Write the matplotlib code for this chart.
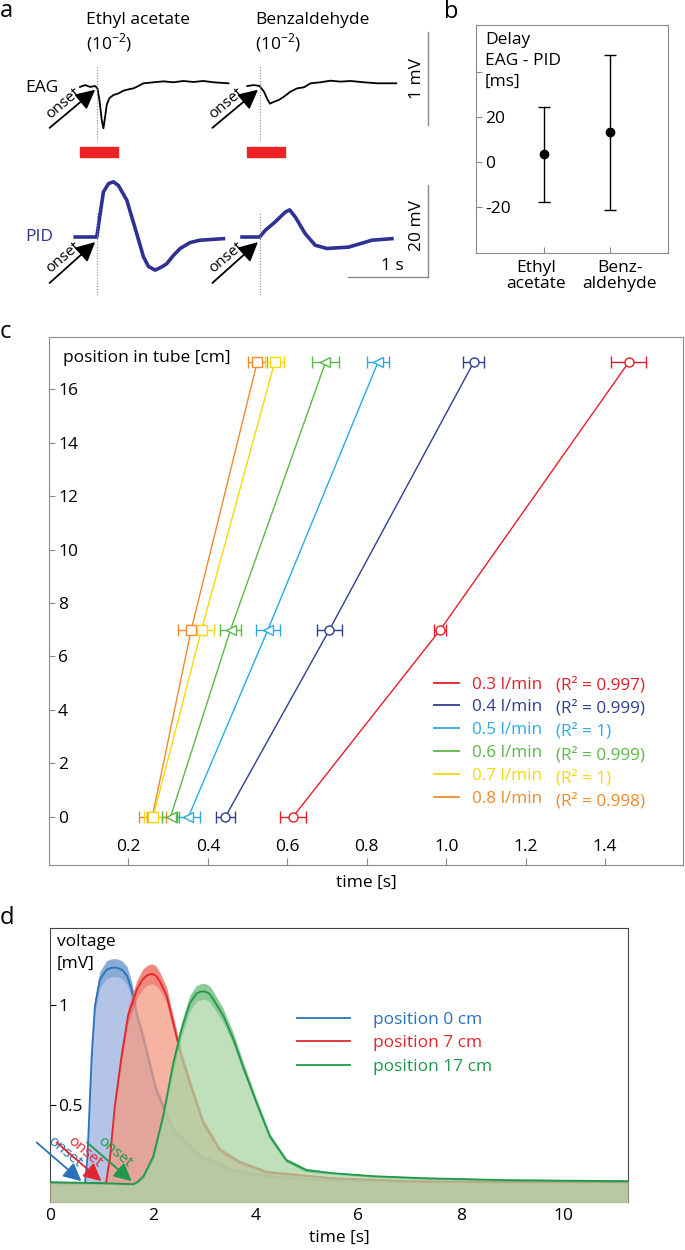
import numpy as np
import matplotlib
matplotlib.use('Agg')
import matplotlib.pyplot as plt
from matplotlib.lines import Line2D
from matplotlib.transforms import ScaledTranslation

plt.rcParams['font.family'] = ['Open Sans', 'DejaVu Sans']
plt.rcParams['mathtext.fontset'] = 'custom'
plt.rcParams['mathtext.rm'] = 'Open Sans'

# ---------------- data ----------------
# panel a: traces, time in s relative to odour onset
eag_ethyl_t = [-0.21, -0.146, -0.083, -0.02, 0.008, 0.033, 0.0625, 0.083, 0.104, 0.125, 0.158, 0.208,
               0.27, 0.333, 0.396, 0.458, 0.52, 0.583, 0.71, 0.833, 0.958, 1.083, 1.208, 1.333, 1.458, 1.646]
eag_ethyl_v = [-0.01, 0.01, -0.01, 0.0, -0.025, -0.15, -0.37, -0.455, -0.33, -0.2, -0.13, -0.097,
               -0.08, -0.05, -0.036, -0.025, 0.0, 0.029, 0.04, 0.05, 0.04, 0.054, 0.043, 0.054, 0.04, 0.029]
eag_benz_t = [-0.154, -0.071, 0.0, 0.054, 0.096, 0.129, 0.179, 0.24, 0.304, 0.387, 0.47, 0.554,
              0.6375, 0.7625, 0.8875, 1.0125, 1.1375, 1.304, 1.47, 1.708]
eag_benz_v = [0.0, 0.01, 0.0, -0.06, -0.14, -0.19, -0.17, -0.15, -0.115, -0.06, -0.025, -0.014,
              0.029, 0.04, 0.057, 0.047, 0.054, 0.04, 0.029, 0.029]
pid_ethyl_t = [-0.27, 0.0, 0.042, 0.083, 0.146, 0.208, 0.27, 0.375, 0.5, 0.583, 0.646, 0.729,
               0.8125, 0.875, 0.958, 1.042, 1.167, 1.29, 1.583]
pid_ethyl_v = [0.0, 0.0, 5.1, 9.8, 11.6, 12.0, 11.2, 8.0, 0.7, -4.3, -6.4, -7.2,
               -6.5, -5.8, -4.0, -2.5, -1.2, -0.7, -0.36]
pid_benz_t = [-0.22, 0.0, 0.071, 0.196, 0.32, 0.375, 0.446, 0.571, 0.696, 0.842, 1.1125, 1.404, 1.654]
pid_benz_v = [0.0, 0.0, 1.45, 3.3, 5.4, 5.9, 4.35, 0.7, -1.8, -2.5, -2.2, -0.7, -0.36]
odour_names = ['Ethyl acetate', 'Benzaldehyde']
onset_times = [1.21, 3.245]       # s, position of each trace in panel a
stim_start = [-0.21, -0.16]       # valve opening relative to onset
stim_dur = 0.48

# panel b: delay EAG - PID [ms]
odours_b = ['Ethyl\nacetate', 'Benz-\naldehyde']
delay_mean = [3.5, 13.2]
delay_err = [21.2, 34.6]

# panel c: arrival time at each position in the tube
positions = [0, 7, 17]
flows = ['0.3 l/min', '0.4 l/min', '0.5 l/min', '0.6 l/min', '0.7 l/min', '0.8 l/min']
r2 = ['0.997', '0.999', '1', '0.999', '1', '0.998']
arrival = [
    [0.614, 0.985, 1.459],
    [0.444, 0.706, 1.069],
    [0.351, 0.551, 0.828],
    [0.306, 0.457, 0.696],
    [0.262, 0.384, 0.568],
    [0.260, 0.358, 0.524],
]
arrival_err = [
    [0.033, 0.015, 0.043],
    [0.023, 0.031, 0.026],
    [0.028, 0.031, 0.027],
    [0.021, 0.027, 0.033],
    [0.023, 0.031, 0.023],
    [0.034, 0.033, 0.024],
]

# panel d: PID voltage at three positions
d_labels = ['position 0 cm', 'position 7 cm', 'position 17 cm']
t_pos0 = [0, 0.5, 0.68, 0.73, 0.77, 0.81, 0.875, 0.97, 1.10, 1.20, 1.30, 1.40, 1.50, 1.59, 1.69, 1.82,
          2.07, 2.40, 2.92, 3.57, 4.22, 5.0, 6.0, 8.0, 11.25]
v_pos0 = [0.105, 0.105, 0.105, 0.24, 0.49, 0.74, 1.0, 1.13, 1.18, 1.19, 1.19, 1.18, 1.15, 1.08, 0.95, 0.83,
          0.57, 0.37, 0.24, 0.17, 0.14, 0.125, 0.115, 0.11, 0.11]
sd_pos0 = [0.005, 0.005, 0.005, 0.01, 0.02, 0.03, 0.035, 0.04, 0.045, 0.045, 0.045, 0.045, 0.045, 0.04, 0.03, 0.03,
           0.025, 0.02, 0.015, 0.01, 0.01, 0.005, 0.005, 0.005, 0.005]
t_pos7 = [0, 0.9, 1.09, 1.17, 1.26, 1.39, 1.52, 1.69, 1.80, 1.88, 1.98, 2.06, 2.14, 2.27, 2.40, 2.56, 2.76,
          2.98, 3.31, 3.70, 4.22, 5.5, 7.0, 9.0, 11.25]
v_pos7 = [0.105, 0.105, 0.105, 0.24, 0.49, 0.74, 0.95, 1.08, 1.13, 1.15, 1.16, 1.15, 1.12, 1.05, 0.91, 0.74, 0.58,
          0.41, 0.27, 0.21, 0.16, 0.13, 0.115, 0.11, 0.11]
sd_pos7 = [0.005, 0.005, 0.005, 0.01, 0.02, 0.03, 0.04, 0.045, 0.05, 0.05, 0.05, 0.05, 0.045, 0.04, 0.035, 0.03, 0.025,
           0.02, 0.015, 0.01, 0.01, 0.005, 0.005, 0.005, 0.005]
t_pos17 = [0, 1.0, 1.62, 1.70, 1.82, 2.01, 2.20, 2.40, 2.56, 2.72, 2.85, 2.94, 3.02, 3.10, 3.18, 3.37, 3.57,
           3.76, 4.02, 4.28, 4.60, 4.99, 5.51, 6.29, 7.26, 8.89, 11.25]
v_pos17 = [0.11, 0.105, 0.10, 0.11, 0.14, 0.24, 0.44, 0.71, 0.88, 1.01, 1.06, 1.07, 1.07, 1.06, 1.03, 0.95, 0.83,
           0.69, 0.51, 0.34, 0.22, 0.17, 0.155, 0.14, 0.13, 0.12, 0.115]
sd_pos17 = [0.005, 0.005, 0.005, 0.005, 0.01, 0.015, 0.02, 0.03, 0.035, 0.04, 0.04, 0.04, 0.04, 0.04, 0.04, 0.035, 0.03,
            0.025, 0.02, 0.015, 0.01, 0.01, 0.005, 0.005, 0.005, 0.005, 0.005]
onset_d = [0.61, 1.0, 1.59]

# ---------------- styling ----------------
W, H = 685, 1250
fig = plt.figure(figsize=(W / 100, H / 100), dpi=100)


def px_axes(left, top, right, bottom):
    return fig.add_axes([left / W, 1 - bottom / H, (right - left) / W, (bottom - top) / H])


def inside_yticks(ax, ticks, labels, pad):
    ax.set_yticks(ticks)
    ax.set_yticklabels(labels)
    ax.tick_params(axis='y', direction='in', length=4, pad=-pad)
    for lbl in ax.get_yticklabels():
        lbl.set_horizontalalignment('left')


fs = 12.5
flow_colors = ['#e41e26', '#2e3f8f', '#29abe2', '#5bb848', '#f5d90a', '#f08a2c']
flow_markers = ['o', 'o', '<', '<', 's', 's']
d_colors = ['#2a72b9', '#e3262d', '#1f9a4a']
d_fill = ['#9ab0de', '#f39a82', '#aad6a4']
pid_color = '#2e3192'
grey = '#8a8a8a'

# ---------------- panel a ----------------
ax_eag = px_axes(0, 20, 440, 165)
ax_eag.set_xlim(0, 5.5)
ax_eag.set_ylim(-0.8495, 0.7097)
ax_eag.axis('off')
ax_pid = px_axes(0, 170, 440, 300)
ax_pid.set_xlim(0, 5.5)
ax_pid.set_ylim(-13.7, 14.57)
ax_pid.axis('off')

eag_traces = [(eag_ethyl_t, eag_ethyl_v), (eag_benz_t, eag_benz_v)]
pid_traces = [(pid_ethyl_t, pid_ethyl_v), (pid_benz_t, pid_benz_v)]
for i, onset in enumerate(onset_times):
    t, v = eag_traces[i]
    ax_eag.plot(onset + np.array(t), v, color='black', lw=1.3)
    ax_eag.plot([onset, onset], [-0.58, 0.23], color=grey, ls=(0, (1, 1.5)), lw=0.8)
    ax_eag.broken_barh([(onset + stim_start[i], stim_dur)], (-0.763, 0.107), color='#ec2227')
    t, v = pid_traces[i]
    ax_pid.plot(onset + np.array(t), v, color=pid_color, lw=2.6)
    ax_pid.plot([onset, onset], [-12.6, 5.4], color=grey, ls=(0, (1, 1.5)), lw=0.8)
    for ax, y0, y1 in [(ax_eag, -0.45, -0.04), (ax_pid, -10.0, -1.1)]:
        ax.annotate('', xy=(onset - 0.02, y1), xytext=(onset - 0.59, y0),
                    arrowprops=dict(arrowstyle='-|>,head_length=0.9,head_width=0.45', color='black',
                                    lw=1.3, shrinkA=0, shrinkB=0, mutation_scale=13))
        ax.annotate('onset', xy=(onset - 0.34, (y0 + y1) / 2 - (y1 - y0) * 0.07),
                    xytext=(-1, 1.5), textcoords='offset points', rotation=40,
                    rotation_mode='anchor', ha='center', va='bottom', fontsize=11)
    fig.text((86 + 169 * i) / W, 1 - 20 / H, odour_names[i], va='center', fontsize=fs)
    fig.text((86 + 169 * i) / W, 1 - 43 / H, r'(10$^{\mathregular{-2}}$)', va='center', fontsize=fs)

ax_eag.text(0.31, -0.02, 'EAG', va='center', fontsize=fs)
ax_pid.text(0.31, 0.0, 'PID', va='center', fontsize=fs, color=pid_color)
# scale bars
ax_eag.plot([5.35, 5.35], [-0.42, 0.58], color=grey, lw=1)
ax_eag.text(5.21, 0.08, '1 mV', rotation=90, ha='center', va='center', fontsize=fs)
ax_pid.plot([5.35, 5.35], [-8.7, 11.3], color=grey, lw=1)
ax_pid.plot([4.35, 5.35], [-8.7, -8.7], color=grey, lw=1)
ax_pid.text(5.21, 2.4, '20 mV', rotation=90, ha='center', va='center', fontsize=fs)
ax_pid.text(4.9, -6.2, '1 s', ha='center', va='center', fontsize=fs)

# ---------------- panel b ----------------
ax_b = px_axes(476, 25, 668, 253)
ax_b.errorbar([1, 2], delay_mean, yerr=delay_err, fmt='o', color='black', ms=6,
              capsize=4, elinewidth=1, capthick=1)
ax_b.set_xlim(-0.03, 2.88)
ax_b.set_ylim(-40.5, 61)
ax_b.set_xticks([1, 2])
ax_b.set_xticklabels(odours_b, fontsize=fs, linespacing=1.0)
ax_b.tick_params(axis='x', direction='in', length=4, pad=5)
for lbl, dx in zip(ax_b.get_xticklabels(), [-8, 10]):
    lbl.set_transform(lbl.get_transform() + ScaledTranslation(dx / 100, 0, fig.dpi_scale_trans))
inside_yticks(ax_b, [-20, 0, 20, 40], ['-20', '0', '20', ''], 6.5)
ax_b.tick_params(axis='y', labelsize=fs)
for s in ax_b.spines.values():
    s.set_color(grey)
ax_b.tick_params(colors=grey, labelcolor='black')
ax_b.text(0.047, 0.97, 'Delay\nEAG - PID\n[ms]', transform=ax_b.transAxes, va='top', fontsize=fs,
          linespacing=1.4)

# ---------------- panel c ----------------
ax_c = px_axes(49, 337, 683, 865)
for i in range(len(flows) - 1, -1, -1):
    ax_c.errorbar(arrival[i], positions, xerr=arrival_err[i], color=flow_colors[i], lw=1,
                  marker=flow_markers[i], ms=6.5, mfc='white', mec=flow_colors[i], mew=1,
                  capsize=4, elinewidth=1, capthick=1)
ax_c.set_xlim(0, 1.596)
ax_c.set_ylim(-1.8, 17.95)
ax_c.set_xticks([0.2, 0.4, 0.6, 0.8, 1.0, 1.2, 1.4])
ax_c.set_xticklabels(['0.2', '0.4', '0.6', '0.8', '1.0', '1.2', '1.4'])
ax_c.tick_params(axis='x', direction='in', length=5, pad=-18.5, labelsize=fs)
inside_yticks(ax_c, list(range(0, 17, 2)), [str(v) for v in range(0, 17, 2)], 6.5)
ax_c.tick_params(axis='y', labelsize=fs)
for s in ax_c.spines.values():
    s.set_color(grey)
ax_c.tick_params(colors=grey, labelcolor='black')
ax_c.text(0.022, 0.96, 'position in tube [cm]', transform=ax_c.transAxes, va='center', fontsize=fs)
ax_c.set_xlabel('time [s]', fontsize=fs)
ax_c.xaxis.set_label_coords(0.5, -0.018)
ax_c.xaxis.label.set_verticalalignment('top')

handles = [Line2D([], [], color=c, lw=1.3) for c in flow_colors]
leg1 = ax_c.legend(handles, flows, loc='upper left', bbox_to_anchor=(0.607, 0.357), frameon=False,
                   fontsize=12.3, handlelength=1.46, handletextpad=0.76, labelspacing=0.4,
                   borderpad=0, borderaxespad=0, labelcolor=flow_colors)
ax_c.add_artist(leg1)
blank = [Line2D([], [], lw=0) for _ in flow_colors]
ax_c.legend(blank, ['(R\u00b2 = %s)' % r for r in r2], loc='upper left', bbox_to_anchor=(0.80, 0.357),
            frameon=False, fontsize=12.3, handlelength=0, handletextpad=0, labelspacing=0.4,
            borderpad=0, borderaxespad=0, labelcolor=flow_colors)

# ---------------- panel d ----------------
ax_d = px_axes(50, 928, 628, 1202)
curves = [(t_pos0, v_pos0, sd_pos0), (t_pos7, v_pos7, sd_pos7), (t_pos17, v_pos17, sd_pos17)]
for i, (t, v, sd) in enumerate(curves):
    t = np.array(t)
    v = np.array(v)
    sd = np.array(sd)
    ax_d.fill_between(t, 0, v + sd, color=d_fill[i], alpha=0.75, lw=0, zorder=2 + 3 * i)
    ax_d.fill_between(t, v - sd, v + sd, color=d_colors[i], alpha=0.3, lw=0, zorder=3 + 3 * i)
    ax_d.plot(t, v, color=d_colors[i], lw=1.3, zorder=4 + 3 * i, label=d_labels[i])
    x1 = onset_d[i]
    ax_d.annotate('', xy=(x1, 0.115), xytext=(x1 - 0.87, 0.31), annotation_clip=False,
                  arrowprops=dict(arrowstyle='-|>,head_length=0.9,head_width=0.45', color=d_colors[i],
                                  lw=1.3, shrinkA=0, shrinkB=0, mutation_scale=12), zorder=20)
    ax_d.annotate('onset', xy=(x1 - 0.45, 0.225), xytext=(1, 1), textcoords='offset points',
                  rotation=-40, rotation_mode='anchor', ha='center', va='bottom', fontsize=11,
                  color=d_colors[i], zorder=20, annotation_clip=False)
ax_d.set_xlim(0, 11.25)
ax_d.set_ylim(0.01, 1.39)
ax_d.set_xticks(range(0, 12))
ax_d.set_xticklabels([str(v) if v % 2 == 0 else '' for v in range(0, 12)])
ax_d.tick_params(axis='x', direction='in', length=4, pad=4, labelsize=fs)
inside_yticks(ax_d, [0.5, 1.0], ['0.5', '1'], 6)
ax_d.tick_params(axis='y', labelsize=fs)
for s in ax_d.spines.values():
    s.set_color('#444444')
ax_d.text(0.012, 0.978, 'voltage\n[mV]', transform=ax_d.transAxes, va='top', fontsize=fs,
          linespacing=1.45)
ax_d.set_xlabel('time [s]', fontsize=fs)
ax_d.xaxis.set_label_coords(0.5, -0.1)
ax_d.xaxis.label.set_verticalalignment('top')
ax_d.legend(loc='upper left', bbox_to_anchor=(0.427, 0.695), frameon=False, fontsize=fs,
            handlelength=3.05, handletextpad=1.32, labelspacing=0.42, borderpad=0, borderaxespad=0,
            labelcolor='linecolor')

# panel letters
for letter, x, y in [('a', 0, 11), ('b', 444, 12), ('c', 0, 332), ('d', 0, 918)]:
    fig.text(x / W, 1 - y / H, letter, fontsize=17, va='center', ha='left')

fig.savefig('out.png', dpi=100)
